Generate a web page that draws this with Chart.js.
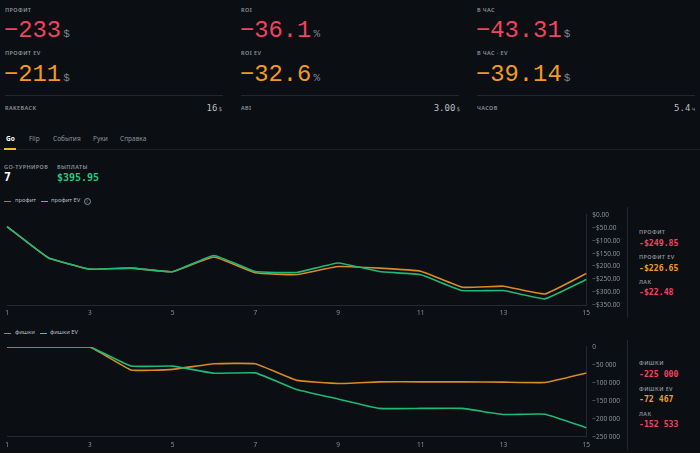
<!DOCTYPE html>
<html><head><meta charset="utf-8">
<script src="https://cdn.jsdelivr.net/npm/chart.js@4"></script>
<style>
html,body{margin:0;padding:0;background:#0b0e12;width:700px;height:453px;overflow:hidden;font-family:"Noto Sans",sans-serif;}
.a{position:absolute;white-space:nowrap;line-height:1;}
.lab{font-size:5.5px;color:#8b929b;letter-spacing:0.4px;font-weight:600;transform:translateY(-50%);}
.big{font-family:"Liberation Mono",monospace;font-size:23.8px;transform:translateY(-50%);letter-spacing:0px;}
.big small{font-size:11px;color:#7d8590;margin-left:2px;}
.red{color:#ee4460;}
.org{color:#f19a22;}
.hr{position:absolute;height:1px;background:#23272d;}
.val{font-family:"DejaVu Sans Mono",monospace;font-size:9px;color:#b9bec6;transform:translateY(-50%);}
.val small{font-size:6px;color:#8b929b;margin-left:1px;}
.tab{font-size:6.5px;color:#8b929b;transform:translateY(-50%);}
.pv{font-family:"DejaVu Sans Mono",monospace;font-weight:bold;font-size:8.2px;transform:translateY(-50%);}
.leg{font-size:5.8px;color:#b9bec6;transform:translateY(-50%);}
.sw{position:absolute;width:7px;height:1.6px;}
.vl{position:absolute;width:1px;background:#23272d;}
</style></head>
<body>
<!-- top stats -->
<div class="a lab" style="left:5px;top:10.7px">ПРОФИТ</div>
<div class="a big red" style="left:4px;top:31px">−233<small>$</small></div>
<div class="a lab" style="left:5px;top:54.3px">ПРОФИТ EV</div>
<div class="a big org" style="left:4px;top:74.7px">−211<small>$</small></div>
<div class="hr" style="left:5px;top:95px;width:218px"></div>
<div class="a lab" style="left:5px;top:108.7px">RAKEBACK</div>
<div class="a val" style="right:478px;top:108.3px">16<small>$</small></div>

<div class="a lab" style="left:241px;top:10.7px">ROI</div>
<div class="a big red" style="left:240px;top:31px">−36.1<small>%</small></div>
<div class="a lab" style="left:241px;top:54.3px">ROI EV</div>
<div class="a big org" style="left:240px;top:74.7px">−32.6<small>%</small></div>
<div class="hr" style="left:241px;top:95px;width:218px"></div>
<div class="a lab" style="left:241px;top:108.7px">ABI</div>
<div class="a val" style="right:240px;top:108.3px">3.00<small>$</small></div>

<div class="a lab" style="left:477px;top:10.7px">В ЧАС</div>
<div class="a big red" style="left:476px;top:31px">−43.31<small>$</small></div>
<div class="a lab" style="left:477px;top:54.3px">В ЧАС · EV</div>
<div class="a big org" style="left:476px;top:74.7px">−39.14<small>$</small></div>
<div class="hr" style="left:477px;top:95px;width:218px"></div>
<div class="a lab" style="left:477px;top:108.7px">ЧАСОВ</div>
<div class="a val" style="right:5px;top:108.3px">5.4<small>ч</small></div>

<!-- tabs -->
<div class="a tab" style="left:6px;top:138.7px;color:#fff;font-weight:bold">Go</div>
<div class="a tab" style="left:29px;top:138.7px">Flip</div>
<div class="a tab" style="left:53px;top:138.7px">События</div>
<div class="a tab" style="left:93px;top:138.7px">Руки</div>
<div class="a tab" style="left:120px;top:138.7px">Справка</div>
<div class="hr" style="left:0;top:148.5px;width:700px;background:#1c2025"></div>
<div class="hr" style="left:4px;top:148px;width:12px;height:1.6px;background:#e7c12a"></div>

<div class="a lab" style="left:4px;top:167.7px">GO-ТУРНИРОВ</div>
<div class="a" style="left:4px;top:177.5px;transform:translateY(-50%);font-family:'DejaVu Sans Mono',monospace;font-weight:bold;font-size:11.5px;color:#fff">7</div>
<div class="a lab" style="left:57px;top:167.7px">ВЫПЛАТЫ</div>
<div class="a" style="left:57px;top:177.5px;transform:translateY(-50%);font-family:'DejaVu Sans Mono',monospace;font-weight:bold;font-size:10px;color:#22c97f">$395.95</div>

<!-- legend 1 -->
<div class="sw" style="left:4px;top:200.5px;background:#1fb877"></div>
<div class="a leg" style="left:15px;top:201.3px">профит</div>
<div class="sw" style="left:41px;top:200.5px;background:#d98a22"></div>
<div class="a leg" style="left:51px;top:201.3px">профит EV</div>
<div class="a" style="left:83.5px;top:198px;width:5px;height:5px;border:0.8px solid #8b929b;border-radius:50%;font-size:4.5px;color:#8b929b;text-align:center;line-height:5px">i</div>

<div style="position:absolute;left:0;top:205px;width:625px;height:115px"><canvas id="c1"></canvas></div>
<div class="vl" style="left:627px;top:207px;height:111px"></div>
<div class="a lab" style="left:639px;top:233px">ПРОФИТ</div>
<div class="a pv red" style="left:639px;top:242.7px" id="p1"></div>
<div class="a lab" style="left:639px;top:257.5px">ПРОФИТ EV</div>
<div class="a pv org" style="left:639px;top:267.5px" id="p2"></div>
<div class="a lab" style="left:639px;top:282.5px">ЛАК</div>
<div class="a pv red" style="left:639px;top:291.7px" id="p3"></div>

<!-- legend 2 -->
<div class="sw" style="left:4px;top:332.5px;background:#1fb877"></div>
<div class="a leg" style="left:15px;top:333.3px">фишки</div>
<div class="sw" style="left:40px;top:332.5px;background:#d98a22"></div>
<div class="a leg" style="left:50px;top:333.3px">фишки EV</div>

<div style="position:absolute;left:0;top:337px;width:625px;height:116px"><canvas id="c2"></canvas></div>
<div class="vl" style="left:627px;top:340px;height:110px"></div>
<div class="a lab" style="left:639px;top:364.3px">ФИШКИ</div>
<div class="a pv red" style="left:639px;top:374px" id="q1"></div>
<div class="a lab" style="left:639px;top:390px">ФИШКИ EV</div>
<div class="a pv org" style="left:639px;top:399.3px" id="q2"></div>
<div class="a lab" style="left:639px;top:415px">ЛАК</div>
<div class="a pv red" style="left:639px;top:424.3px" id="q3"></div>

<script>
const tournaments = [1,2,3,4,5,6,7,8,9,10,11,12,13,14,15];
const profit   = [-45,-166,-210,-206,-220,-157,-219,-223,-186,-219,-232,-293,-293,-325,-249.85];
const profitEV = [-45,-166,-210,-206,-220,-163,-224,-231,-200,-206,-218,-280,-276,-306,-226.65];
const profitLuck = -22.48;
const chips    = [0,0,0,-53400,-53400,-73300,-72400,-118500,-144900,-171200,-171200,-171200,-188300,-187400,-225000];
const chipsEV  = [0,0,0,-64300,-62500,-47000,-47000,-93200,-101800,-97300,-97300,-97300,-98200,-99100,-72467];
const chipsLuck = -152533;
const profitTicks = [0,-50,-100,-150,-200,-250,-300,-350];
const chipTicks = [0,-50000,-100000,-150000,-200000,-250000];

const GREEN='#1fb877', ORANGE='#d98a22', BORDER='#262a30', TICK='#8b929b';
const fmtMoney = v => v===0 ? '$0.00' : (v<0?'−':'')+'$'+Math.abs(v).toFixed(2);
const fmtChips = v => { if(v===0) return '0'; const s=Math.abs(Math.round(v)).toString().replace(/\B(?=(\d{3})+(?!\d))/g,' '); return (v<0?'−':'')+s; };

const last = a => a[a.length-1];
const money = v => (v<0?'-':'')+'$'+Math.abs(v).toFixed(2);
const sp = v => (v<0?'-':'')+Math.abs(Math.round(v)).toString().replace(/\B(?=(\d{3})+(?!\d))/g,' ');
document.getElementById('p1').textContent = money(last(profit));
document.getElementById('p2').textContent = money(last(profitEV));
document.getElementById('p3').textContent = money(profitLuck);
document.getElementById('q1').textContent = sp(last(chips));
document.getElementById('q2').textContent = sp(last(chipsEV));
document.getElementById('q3').textContent = sp(chipsLuck);

function makeChart(id, a, b, ticks, fmt, padTop, xH, yW, xPad){
  new Chart(document.getElementById(id), {
    type:'line',
    data:{labels:tournaments, datasets:[
      {data:a, borderColor:GREEN, borderWidth:1.6, pointRadius:0, tension:0.1},
      {data:b, borderColor:ORANGE, borderWidth:1.6, pointRadius:0, tension:0.1}
    ]},
    options:{
      responsive:true, maintainAspectRatio:false, animation:false,
      layout:{padding:{top:padTop,left:7,right:0,bottom:0}},
      plugins:{legend:{display:false},tooltip:{enabled:false}},
      scales:{
        x:{grid:{display:false,drawTicks:false},border:{color:BORDER},
           ticks:{color:TICK,font:{size:6.5,family:'Noto Sans'},padding:xPad,maxRotation:0,autoSkip:false,
             callback:function(v,i){return (i%2===0)?this.getLabelForValue(v):'';}},
           afterFit:s=>{s.height=xH;}},
        y:{position:'right',min:ticks[ticks.length-1],max:ticks[0],
           grid:{display:false,drawTicks:false},border:{color:BORDER},
           afterBuildTicks:s=>{s.ticks=ticks.map(v=>({value:v}));},
           ticks:{color:TICK,font:{size:6.5,family:'Noto Sans'},padding:6,callback:v=>fmt(v)},
           afterFit:s=>{s.width=yW;}}
      }
    }
  });
}
makeChart('c1', profit, profitEV, profitTicks, fmtMoney, 8.3, 14.7, 38.7, 4);
makeChart('c2', chips, chipsEV, chipTicks, fmtChips, 7.7, 16.3, 38.7, 5);
</script>
</body></html>
